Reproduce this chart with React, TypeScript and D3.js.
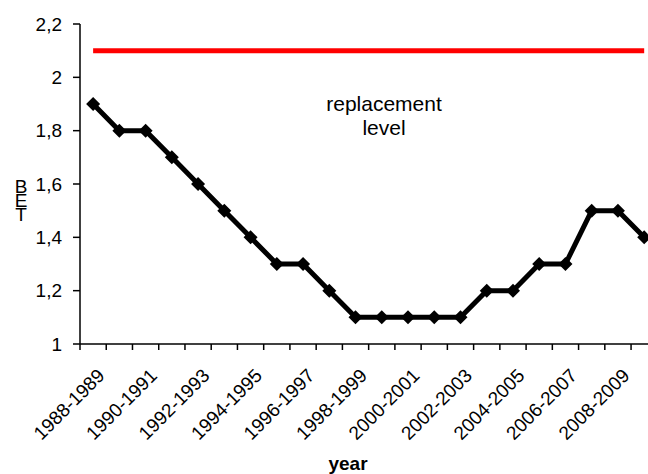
import React, { useRef, useEffect } from "react";
import * as d3 from "d3";

const years: string[] = [
    "1988-1989", "1989-1990", "1990-1991", "1991-1992", "1992-1993", "1993-1994",
    "1994-1995", "1995-1996", "1996-1997", "1997-1998", "1998-1999", "1999-2000",
    "2000-2001", "2001-2002", "2002-2003", "2003-2004", "2004-2005", "2005-2006",
    "2006-2007", "2007-2008", "2008-2009", "2009-2010",
];
const tfr: number[] = [
    1.9, 1.8, 1.8, 1.7, 1.6, 1.5, 1.4, 1.3, 1.3, 1.2, 1.1,
    1.1, 1.1, 1.1, 1.1, 1.2, 1.2, 1.3, 1.3, 1.5, 1.5, 1.4,
];
const replacementLevel = 2.1;
const yTicks: number[] = [1, 1.2, 1.4, 1.6, 1.8, 2, 2.2];
const yLabelLetters: string[] = ["B", "E", "T"];

const W = 648;
const H = 474;
const FONT = "'Liberation Sans', Arial, sans-serif";

const TfrChart: React.FC = () => {
    const ref = useRef<SVGSVGElement>(null);

    useEffect(() => {
        if (!ref.current) return;
        const svg = d3.select(ref.current);
        svg.selectAll("*").remove();

        const left = 80;
        const right = 657.3;
        const top = 24;
        const bottom = 344;

        const x = d3.scaleBand<string>().domain(years).range([left, right]).padding(0);
        const y = d3.scaleLinear().domain([1, 2.2]).range([bottom, top]);
        const cx = (d: string) => (x(d) || 0) + x.bandwidth() / 2;
        const fmt = (v: number) => d3.format("~g")(v).replace(".", ",");

        // y axis
        svg.append("line")
            .attr("x1", left).attr("x2", left)
            .attr("y1", top).attr("y2", bottom)
            .attr("stroke", "#000").attr("stroke-width", 1.5);
        yTicks.forEach(t => {
            svg.append("line")
                .attr("x1", left - 7).attr("x2", left)
                .attr("y1", y(t)).attr("y2", y(t))
                .attr("stroke", "#000").attr("stroke-width", 1.5);
            svg.append("text")
                .attr("x", left - 18).attr("y", y(t))
                .attr("dy", "0.35em")
                .attr("text-anchor", "end")
                .style("font-family", FONT).style("font-size", "19px")
                .text(fmt(t));
        });

        // x axis
        svg.append("line")
            .attr("x1", left).attr("x2", right)
            .attr("y1", bottom).attr("y2", bottom)
            .attr("stroke", "#000").attr("stroke-width", 1.5);
        const tickPos = years.map(d => x(d) || 0).concat([right]);
        tickPos.forEach(p => {
            svg.append("line")
                .attr("x1", p).attr("x2", p)
                .attr("y1", bottom).attr("y2", bottom + 6)
                .attr("stroke", "#000").attr("stroke-width", 1.5);
        });
        years.forEach((d, i) => {
            if (i % 2 !== 0) return;
            const px = cx(d) + 8;
            const py = bottom + 28;
            svg.append("text")
                .attr("transform", `translate(${px},${py}) rotate(-45)`)
                .attr("dy", "0.35em")
                .attr("text-anchor", "end")
                .style("font-family", FONT).style("font-size", "19px")
                .text(d);
        });

        // axis titles
        svg.append("text")
            .attr("x", 348).attr("y", 470)
            .attr("text-anchor", "middle")
            .style("font-family", FONT).style("font-size", "19px")
            .style("font-weight", "bold")
            .text("year");
        // stacked vertical title, letters overlap as in the original
        const yt = svg.append("text")
            .attr("text-anchor", "middle")
            .style("font-family", FONT).style("font-size", "19px");
        yLabelLetters.forEach((l, i) => {
            yt.append("tspan")
                .attr("x", 21).attr("y", 193 + i * 14)
                .text(l);
        });

        // replacement level
        svg.append("line")
            .attr("x1", cx(years[0])).attr("x2", cx(years[years.length - 1]))
            .attr("y1", y(replacementLevel)).attr("y2", y(replacementLevel))
            .attr("stroke", "#ff0000").attr("stroke-width", 5);
        const ann = svg.append("text")
            .attr("x", 384).attr("y", 111)
            .attr("text-anchor", "middle")
            .style("font-family", FONT).style("font-size", "21px");
        ann.append("tspan").attr("x", 384).text("replacement");
        ann.append("tspan").attr("x", 384).attr("dy", 24).text("level");

        // TFR line
        const line = d3.line<number>()
            .x((_, i) => cx(years[i]))
            .y(v => y(v));
        svg.append("path")
            .datum(tfr)
            .attr("d", line)
            .attr("fill", "none")
            .attr("stroke", "#000")
            .attr("stroke-width", 5)
            .attr("stroke-linejoin", "round");
        svg.selectAll("path.marker")
            .data(tfr)
            .enter()
            .append("path")
            .attr("class", "marker")
            .attr("transform", (v, i) => `translate(${cx(years[i])},${y(v)})`)
            .attr("d", "M0,-7L7,0L0,7L-7,0Z")
            .attr("fill", "#000");
    }, []);

    return (
        <svg
            ref={ref}
            width={W}
            height={H}
            style={{ position: "absolute", left: 0, top: 0, background: "#fff", overflow: "hidden" }}
        />
    );
};

export default function App() {
    return <TfrChart />;
}
